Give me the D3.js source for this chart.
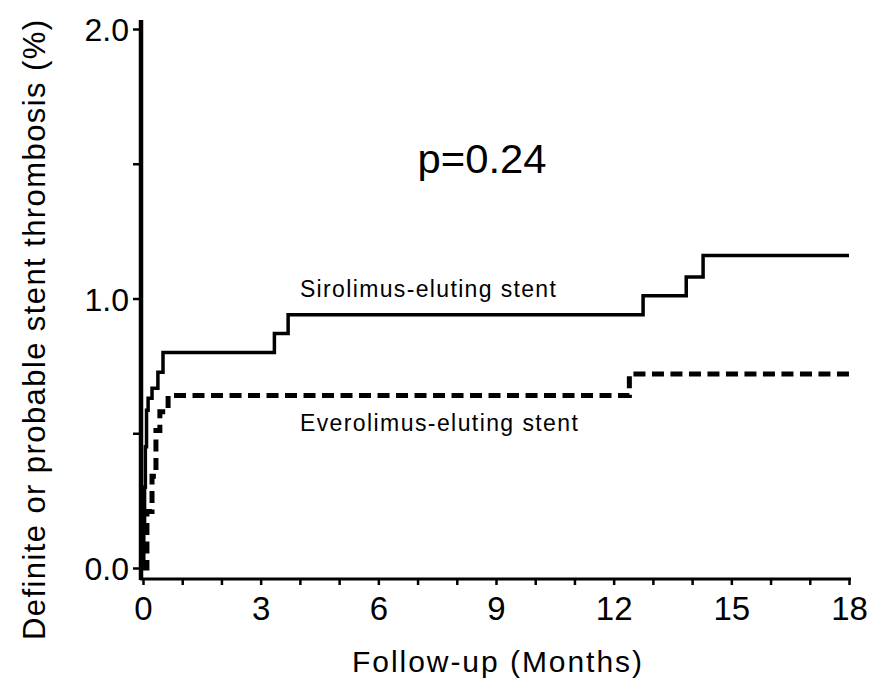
<!DOCTYPE html>
<html>
<head>
<meta charset="utf-8">
<script src="https://cdn.jsdelivr.net/npm/d3@7"></script>
<style>
  html, body { margin: 0; padding: 0; background: #fff; }
  svg { display: block; }
  text { font-family: "Liberation Sans", Arial, Helvetica, sans-serif; fill: #000; }
</style>
</head>
<body>
<svg id="chart" width="873" height="682"></svg>
<script>
// ---- data ----
const sesMonths = [0, 0.02, 0.04, 0.06, 0.09, 0.13, 0.23, 0.38, 0.51, 3.35, 3.70, 12.75, 13.85, 14.28, 18];
const sesValues = [0, 0.15, 0.30, 0.45, 0.585, 0.63, 0.667, 0.726, 0.80, 0.87, 0.94, 1.01, 1.08, 1.16, 1.16];
const eesMonths = [0, 0.10, 0.23, 0.33, 0.43, 0.64, 12.40, 18];
const eesValues = [0, 0.21, 0.34, 0.51, 0.58, 0.64, 0.72, 0.72];
const xMajorTicks = [0, 3, 6, 9, 12, 15, 18];
const xMinorTicks = d3.range(0, 19, 1);
const yTicks = [0, 0.5, 1, 1.5, 2];
const yLabelTicks = [0, 1, 2];
const seriesNames = ["Sirolimus-eluting stent", "Everolimus-eluting stent"];
const pText = "p=0.24";
const xTitle = "Follow-up (Months)";
const yTitle = "Definite or probable stent thrombosis (%)";

const svg = d3.select("#chart");
const x = d3.scaleLinear().domain([0, 18]).range([143, 849]);
const y = d3.scaleLinear().domain([0, 2]).range([568, 29]);

const xAxisY = y(0) + 11;
const yAxisX = x(0) - 2;

// X axis
const xAxis = svg.append("g").attr("transform", `translate(0,${xAxisY})`)
  .call(d3.axisBottom(x).tickValues(xMinorTicks).tickSize(6).tickSizeOuter(0)
    .tickFormat(d => xMajorTicks.includes(d) ? d3.format("d")(d) : ""));
xAxis.select(".domain").remove();
xAxis.selectAll(".tick line").attr("stroke", "#000").attr("stroke-width", 2.5);
xAxis.selectAll(".tick text").attr("dy", 0).attr("y", 41)
  .style("font-size", "33px").attr("fill", "#000");
svg.append("line")
  .attr("x1", yAxisX - 1).attr("x2", x(18) + 2)
  .attr("y1", xAxisY).attr("y2", xAxisY)
  .attr("stroke", "#000").attr("stroke-width", 3);

// Y axis
const yAxis = svg.append("g").attr("transform", `translate(${yAxisX},0)`)
  .call(d3.axisLeft(y).tickValues(yTicks).tickSize(8).tickSizeOuter(0)
    .tickFormat(d => yLabelTicks.includes(d) ? d3.format(".1f")(d) : ""));
yAxis.select(".domain").remove();
yAxis.selectAll(".tick line").attr("stroke", "#000").attr("stroke-width", 2.5);
yAxis.selectAll(".tick text").attr("x", -12).attr("dy", "0.36em")
  .style("font-size", "32px").attr("fill", "#000");
svg.append("line")
  .attr("x1", yAxisX).attr("x2", yAxisX)
  .attr("y1", y(2) - 9).attr("y2", xAxisY + 1)
  .attr("stroke", "#000").attr("stroke-width", 4.5);

// Curves
const line = d3.line().curve(d3.curveStepAfter).x(d => x(d[0])).y(d => y(d[1]));
const ses = sesMonths.map((m, i) => [m, sesValues[i]]);
const ees = eesMonths.map((m, i) => [m, eesValues[i]]);

svg.append("path").datum(ees).attr("d", line)
  .attr("fill", "none").attr("stroke", "#000").attr("stroke-width", 5)
  .attr("stroke-dasharray", "12,6.5");
svg.append("path").datum(ses).attr("d", line)
  .attr("fill", "none").attr("stroke", "#000").attr("stroke-width", 3.5)
  .attr("stroke-linejoin", "miter");

// Annotations
svg.append("text").attr("x", x(4)).attr("y", y(1.007))
  .attr("textLength", 256).attr("lengthAdjust", "spacing")
  .style("font-size", "23px").text(seriesNames[0]);
svg.append("text").attr("x", x(4)).attr("y", y(0.51))
  .attr("textLength", 278).attr("lengthAdjust", "spacing")
  .style("font-size", "23px").text(seriesNames[1]);
svg.append("text").attr("x", x(7)).attr("y", y(1.467))
  .attr("textLength", 129).attr("lengthAdjust", "spacingAndGlyphs")
  .style("font-size", "41px").text(pText);

// Axis titles
svg.append("text").attr("x", (x(0) + x(18)) / 2 + 1).attr("y", 672)
  .attr("text-anchor", "middle")
  .attr("textLength", 290).attr("lengthAdjust", "spacing")
  .style("font-size", "30px").text(xTitle);
svg.append("text").attr("transform", "translate(45,330) rotate(-90)")
  .attr("text-anchor", "middle")
  .attr("textLength", 620).attr("lengthAdjust", "spacing")
  .style("font-size", "31px").text(yTitle);
</script>
</body>
</html>
